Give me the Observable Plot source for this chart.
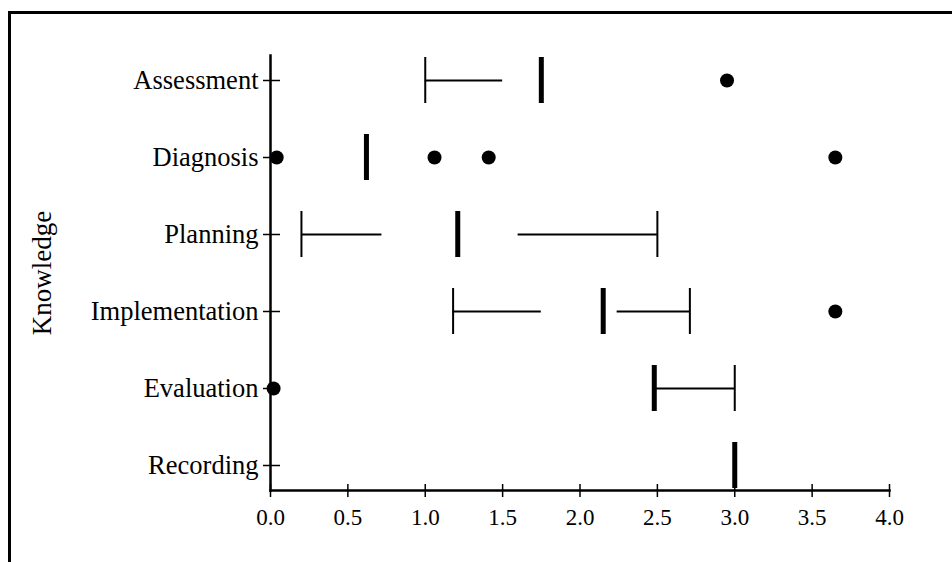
<!DOCTYPE html>
<html>
<head>
<meta charset="utf-8">
<script src="https://cdn.jsdelivr.net/npm/d3@7"></script>
<script src="https://cdn.jsdelivr.net/npm/@observablehq/plot@0.6"></script>
<style>
  html, body { margin: 0; padding: 0; background: #fff; }
  #wrap { position: relative; width: 952px; height: 562px; overflow: hidden; }
  #border { position: absolute; left: 8px; top: 11px; width: 960px; height: 600px;
            border-top: 3px solid #000; border-left: 3px solid #000; }
  #chart { position: absolute; left: 0; top: 0; }
</style>
</head>
<body>
<div id="wrap"><div id="border"></div><div id="chart"></div></div>
<script>
// Categories (top to bottom)
const categories = ["Assessment", "Diagnosis", "Planning", "Implementation", "Evaluation", "Recording"];
// Lower whisker: from minimum to lower quartile (null = none drawn)
const lowerMin = [1.0, null, 0.2, 1.18, null, null];
const lowerQ1  = [1.5, null, 0.72, 1.75, null, null];
// Upper whisker: from upper quartile to maximum
const upperQ3  = [null, null, 1.6, 2.24, 2.48, null];
const upperMax = [null, null, 2.5, 2.71, 3.0, null];
// Medians
const medians = [1.75, 0.62, 1.21, 2.15, 2.48, 3.0];
// Outliers
const outlierCategory = ["Assessment", "Diagnosis", "Diagnosis", "Diagnosis", "Diagnosis", "Implementation", "Evaluation"];
const outlierValue    = [2.95, 0.04, 1.06, 1.41, 3.65, 3.65, 0.02];
// X axis ticks
const xTicks = [0, 0.5, 1, 1.5, 2, 2.5, 3, 3.5, 4];
const yTitle = "Knowledge";

const lowerRows = categories.map((c, i) => ({c, a: lowerMin[i], b: lowerQ1[i]})).filter(d => d.a != null);
const upperRows = categories.map((c, i) => ({c, a: upperQ3[i], b: upperMax[i]})).filter(d => d.a != null);
const caps = [...lowerRows.map(d => ({c: d.c, x: d.a})), ...upperRows.map(d => ({c: d.c, x: d.b}))];
const medianRows = categories.map((c, i) => ({c, x: medians[i]}));
const outliers = outlierCategory.map((c, i) => ({c, x: outlierValue[i]}));

const font = "'Liberation Serif', 'Times New Roman', serif";

const chart = Plot.plot({
  width: 952,
  height: 562,
  marginLeft: 270,
  marginRight: 63,
  marginTop: 55,
  marginBottom: 72,
  style: {fontFamily: font, fontSize: "26px", color: "#000", background: "transparent"},
  x: {domain: [0, 4]},
  y: {type: "band", domain: categories, paddingInner: 0.4, paddingOuter: 0},
  marks: [
    Plot.frame({anchor: "left", strokeWidth: 2.5}),
    Plot.frame({anchor: "bottom", strokeWidth: 2.5}),
    Plot.axisY({tickSize: 7, tickPadding: 5, fontSize: 26.5, strokeWidth: 1.5, label: null}),
    Plot.axisY({tickSize: 10, dx: 10, text: null, strokeWidth: 1.5, label: null}),
    Plot.axisX({ticks: xTicks, tickSize: 7, tickPadding: 11, tickFormat: d3.format(".1f"), fontSize: 23, strokeWidth: 1.5, label: null}),
    Plot.axisX({ticks: xTicks, tickSize: 6, dy: -6, text: null, strokeWidth: 1.5, label: null}),
    Plot.text([yTitle], {frameAnchor: "left", textAnchor: "middle", rotate: -90, dx: -228, fontSize: 27, text: d => d}),
    Plot.ruleY(lowerRows, {y: "c", x1: "a", x2: "b", strokeWidth: 2}),
    Plot.ruleY(upperRows, {y: "c", x1: "a", x2: "b", strokeWidth: 2}),
    Plot.tickX(caps, {x: "x", y: "c", strokeWidth: 2}),
    Plot.tickX(medianRows, {x: "x", y: "c", strokeWidth: 5}),
    Plot.dot(outliers, {x: "x", y: "c", r: 7, fill: "#000", stroke: null})
  ]
});
document.getElementById("chart").appendChild(chart);
</script>
</body>
</html>
